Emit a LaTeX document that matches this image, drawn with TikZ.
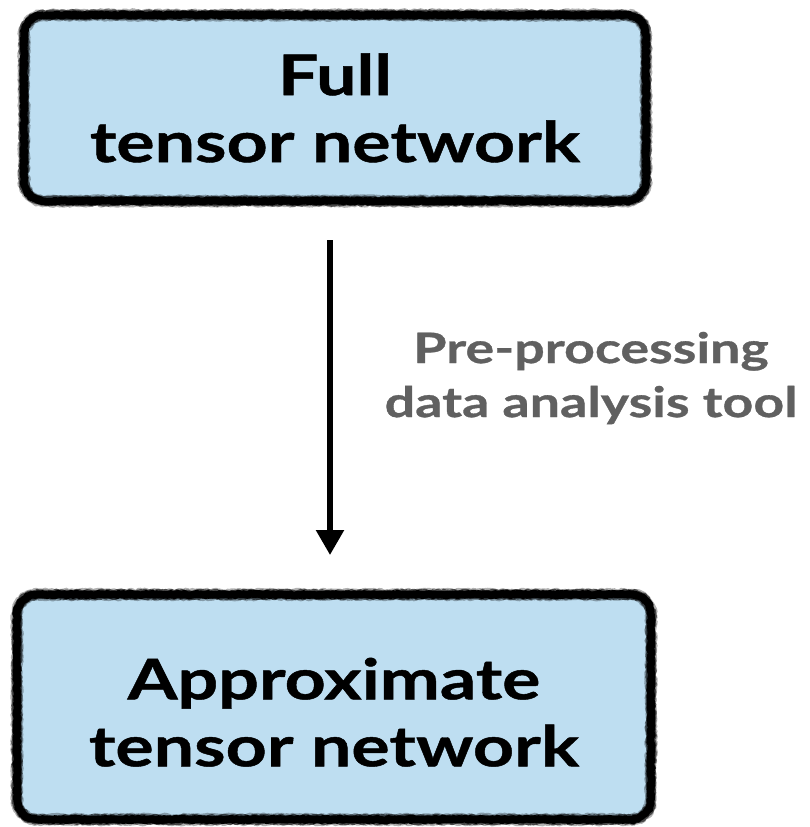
\documentclass[tikz,border=0pt]{standalone}
\usepackage{fontspec}
\setmainfont{Lato}
\newfontfamily\headfont{Lato}[FakeStretch=1.28, FakeBold=0.8]
\usetikzlibrary{arrows.meta,decorations.pathmorphing,calc}

\definecolor{boxblue}{RGB}{190,222,241}
\definecolor{labelgray}{RGB}{96,96,96}

\tikzset{
  roughline/.style 2 args={draw=black, line width=#1, line join=round, decorate,
    decoration={random steps, segment length=1.5pt, amplitude=#2}},
  chalkbox/.style={rectangle, rounded corners=20pt, fill=boxblue, inner sep=0pt,
    outer sep=0pt, align=center,
    font=\headfont\bfseries\fontsize{56}{67}\selectfont},
  steplabel/.style={align=center, text=labelgray,
    font=\headfont\bfseries\fontsize{42}{54}\selectfont},
  flowarrow/.style={line width=5.5pt, -{Triangle[length=25pt,width=27pt]}}
}

% rounded outline of a node, built from explicit arcs so that it can be roughened
\newcommand{\roundframe}[2]{%
  ($(#1.north west)+(#2,0)$) -- ($(#1.north east)+(-#2,0)$)
  arc[start angle=90,end angle=0,radius=#2]
  -- ($(#1.south east)+(0,#2)$)
  arc[start angle=0,end angle=-90,radius=#2]
  -- ($(#1.south west)+(#2,0)$)
  arc[start angle=270,end angle=180,radius=#2]
  -- ($(#1.north west)+(0,-#2)$)
  arc[start angle=180,end angle=90,radius=#2] -- cycle}

% chalky border: a faint wide stroke under two rough solid ones
\newcommand{\chalkframe}[1]{%
  \draw[roughline={11pt}{1.4pt}, draw opacity=0.3] \roundframe{#1}{20pt};
  \draw[roughline={9.5pt}{1.1pt}, draw opacity=0.6] \roundframe{#1}{20pt};
  \draw[roughline={7.5pt}{1pt}] \roundframe{#1}{20pt};
  \draw[roughline={6pt}{0.8pt}] \roundframe{#1}{20pt};
}

\begin{document}
\begin{tikzpicture}[x=1pt,y=-1pt]
  \useasboundingbox (0,0) rectangle (809,827);

  % the two stages
  \node[chalkbox, minimum width=622pt, minimum height=186pt] (full) at (335,108)
    {Full\\tensor network};
  \node[chalkbox, minimum width=634pt, minimum height=225pt] (approx) at (334,707)
    {\rule{0pt}{52pt}Approximate\\tensor network};
  \chalkframe{full}
  \chalkframe{approx}

  % transition between them
  \coordinate (start) at (330,240);
  \coordinate (stop) at (330,555);
  \draw[flowarrow] (start) -- (stop);
  \node[steplabel] (tool) at (591,378) {Pre-processing\\data analysis tool};
\end{tikzpicture}
\end{document}
